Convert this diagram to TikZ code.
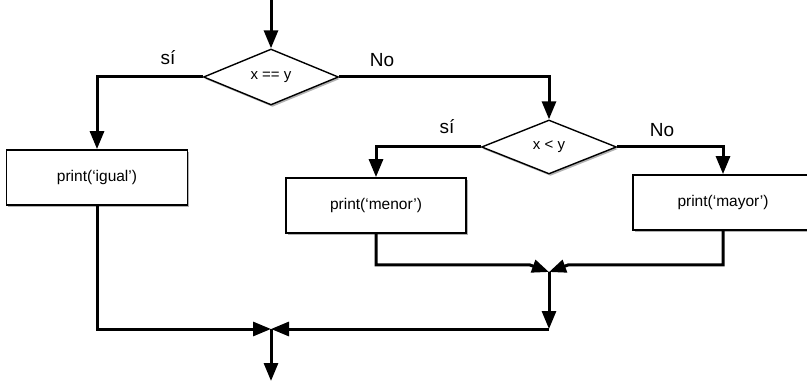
\documentclass[tikz,border=0pt]{standalone}
\usepackage{fontspec}
\setmainfont{Liberation Sans}
\usetikzlibrary{shapes.geometric,arrows.meta,shadows}
\begin{document}
\begin{tikzpicture}[x=1pt,y=-1pt,
  conn/.style={line width=3pt},
  arr/.style={conn,-{Triangle[length=18pt,width=14pt]}},
  jarr/.style={conn,-{Triangle[length=17pt,width=13pt]}},
  shad/.style={drop shadow={shadow xshift=1.5pt,shadow yshift=-2pt,fill=black,opacity=0.3}},
  dec/.style={diamond,draw,line width=1.4pt,fill=white,inner sep=0pt,
    minimum width=135pt,minimum height=56pt,font=\fontsize{15}{17}\selectfont,shad},
  proc/.style={rectangle,draw,line width=1.8pt,fill=white,inner sep=0pt,
    minimum height=55pt,font=\fontsize{15.5}{17}\selectfont,shad},
  lab/.style={font=\fontsize{19}{21}\selectfont,inner sep=0pt}
]
\useasboundingbox (0,0) rectangle (807,385);
\fill[white] (0,0) rectangle (807,385);

\coordinate (start) at (271,0);
\node[dec] (d1) at (271,77) {x == y};
\node[proc,minimum width=181pt] (igual) at (97,177.5) {print(‘igual’)};
\node[dec,minimum height=54pt] (d2) at (549,147) {x < y};
\node[proc,minimum width=180pt] (menor) at (376,205.5) {print(‘menor’)};
\node[proc,minimum width=180pt] (mayor) at (723,202.5) {print(‘mayor’)};

\node[lab] (si1) at (168,58) {sí};
\node[lab] (no1) at (382,60) {No};
\node[lab] (si2) at (447,127) {sí};
\node[lab] (no2) at (662,130) {No};

\coordinate (ml) at (530,265);
\coordinate (mr) at (568,265);
\coordinate (j2) at (549,272);
\coordinate (c2) at (549,329);
\coordinate (j1) at (271,329);
\coordinate (fin) at (271,381);

\draw[arr] (start) -- (d1.north);
\draw[arr] (d1.west) -| (igual.north);
\draw[arr] (d1.east) -| (d2.north);
\draw[arr] (d2.west) -| (menor.north);
\draw[arr] (d2.east) -| (mayor.north);

\draw[jarr] (menor.south) |- (ml) -- (j2);
\draw[jarr] (mayor.south) |- (mr) -- (j2);
\draw[arr] (j2) -- (c2);
\draw[arr] (c2) -- (j1);
\draw[arr] (igual.south) |- (j1);
\draw[arr] (j1) -- (fin);
\end{tikzpicture}
\end{document}
